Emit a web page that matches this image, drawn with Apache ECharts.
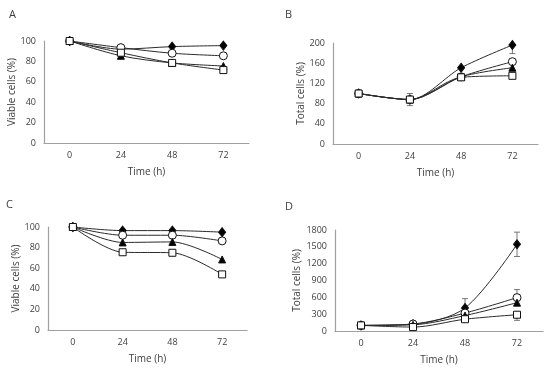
<!DOCTYPE html>
<html><head><meta charset="utf-8">
<script src="https://cdn.jsdelivr.net/npm/echarts@6/dist/echarts.min.js"></script>
<style>html,body{margin:0;padding:0;background:#fff}#c{width:550px;height:371px}</style>
</head><body><div id="c"></div>
<script>
// categories (time, h)
const times = ['0', '24', '48', '72'];
// Panel A: viable cells (%)
const A_diamond = [100, 92, 94.5, 95.5];
const A_circle = [100, 93.5, 88, 85.5];
const A_triangle = [100, 85.5, 78.5, 75.5];
const A_square = [100, 88.5, 78.5, 71.5];
// Panel B: total cells (%)
const B_diamond = [100, 88, 151, 196];
const B_circle = [100, 88, 133, 163];
const B_triangle = [100, 88, 133, 151];
const B_square = [100, 88, 132, 135];
// Panel C: viable cells (%)
const C_diamond = [100, 96.5, 96.5, 95];
const C_circle = [100, 92, 92, 86.5];
const C_triangle = [100, 85, 85.5, 68.5];
const C_square = [100, 75.5, 75, 54];
// Panel D: total cells (%)
const D_diamond = [100, 120, 410, 1545];
const D_circle = [100, 125, 320, 595];
const D_triangle = [100, 110, 275, 505];
const D_square = [100, 70, 210, 290];
// Error bars [category index, low, high]
const B_err = [[1, 76, 100], [3, 179, 196]];
const D_err = [[2, 410, 577], [3, 1328, 1762], [3, 595, 738], [3, 190, 290]];
// y-axis ticks
const yA = {min: 0, max: 100, interval: 20};
const yB = {min: 0, max: 200, interval: 40};
const yC = {min: 0, max: 100, interval: 20};
const yD = {min: 0, max: 1800, interval: 300};

const font = 'Open Sans';
const txt = '#404040';
const axisCol = '#a0a0a0';
const grids = [
  {left: 44, right: 301, top: 41, bottom: 228},
  {left: 333, right: 12, top: 43, bottom: 227},
  {left: 48, right: 303, top: 227, bottom: 41},
  {left: 335, right: 7, top: 230, bottom: 40}
];
const yNames = ['Viable cells (%)', 'Total cells (%)', 'Viable cells (%)', 'Total cells (%)'];
const yRanges = [yA, yB, yC, yD];
const xAxes = grids.map((g, i) => ({
  type: 'category', gridIndex: i, data: times, boundaryGap: true,
  axisLine: {lineStyle: {color: axisCol, width: 1.2}}, axisTick: {show: false},
  axisLabel: {color: txt, fontFamily: font, fontSize: 9, margin: 8},
  name: 'Time (h)', nameLocation: 'middle', nameGap: 24,
  nameTextStyle: {color: txt, fontFamily: font, fontSize: 10}
}));
const yAxes = grids.map((g, i) => Object.assign({
  type: 'value', gridIndex: i,
  axisLine: {show: true, lineStyle: {color: axisCol, width: 1.2}}, axisTick: {show: false},
  splitLine: {show: false},
  axisLabel: {color: txt, fontFamily: font, fontSize: 9, margin: 8, formatter: v => String(v)},
  name: yNames[i], nameLocation: 'middle', nameGap: i === 3 ? 30 : 24,
  nameTextStyle: {color: txt, fontFamily: font, fontSize: 10}
}, yRanges[i]));

const markers = [
  {symbol: 'diamond', size: [7, 9], fill: '#000'},
  {symbol: 'circle', size: 8, fill: '#fff'},
  {symbol: 'triangle', size: 7, fill: '#000'},
  {symbol: 'rect', size: 7, fill: '#fff'}
];
const panels = [
  [A_diamond, A_circle, A_triangle, A_square],
  [B_diamond, B_circle, B_triangle, B_square],
  [C_diamond, C_circle, C_triangle, C_square],
  [D_diamond, D_circle, D_triangle, D_square]
];
const series = [];
const errs = [null, B_err, null, D_err];
panels.forEach((sets, p) => {
  if (errs[p]) {
    series.push({
      type: 'custom', xAxisIndex: p, yAxisIndex: p, z: 1,
      data: errs[p],
      renderItem: function (params, api) {
        const lo = api.coord([api.value(0), api.value(1)]);
        const hi = api.coord([api.value(0), api.value(2)]);
        const w = 3;
        const st = {stroke: '#555', lineWidth: 0.8};
        return {type: 'group', children: [
          {type: 'line', shape: {x1: lo[0], y1: lo[1], x2: hi[0], y2: hi[1]}, style: st},
          {type: 'line', shape: {x1: lo[0] - w, y1: lo[1], x2: lo[0] + w, y2: lo[1]}, style: st},
          {type: 'line', shape: {x1: hi[0] - w, y1: hi[1], x2: hi[0] + w, y2: hi[1]}, style: st}
        ]};
      }
    });
  }
  sets.forEach((d, k) => {
    const m = markers[k];
    series.push({
      type: 'line', xAxisIndex: p, yAxisIndex: p, data: d, smooth: 0.3,
      symbol: m.symbol, symbolSize: m.size, showAllSymbol: true, z: 2 + k,
      lineStyle: {color: '#2a2a2a', width: 1},
      itemStyle: {color: m.fill, borderColor: '#111', borderWidth: 1},
      emphasis: {disabled: true}, animation: false
    });
  });
});

const chart = echarts.init(document.getElementById('c'));
chart.setOption({
  animation: false,
  grid: grids,
  xAxis: xAxes,
  yAxis: yAxes,
  series: series,
  graphic: [
    {type: 'text', left: 9, top: 9, style: {text: 'A', fill: txt, font: '11px "Open Sans"'}},
    {type: 'text', left: 285, top: 9, style: {text: 'B', fill: txt, font: '11px "Open Sans"'}},
    {type: 'text', left: 6, top: 199, style: {text: 'C', fill: txt, font: '11px "Open Sans"'}},
    {type: 'text', left: 285, top: 201, style: {text: 'D', fill: txt, font: '11px "Open Sans"'}}
  ]
});
</script></body></html>
